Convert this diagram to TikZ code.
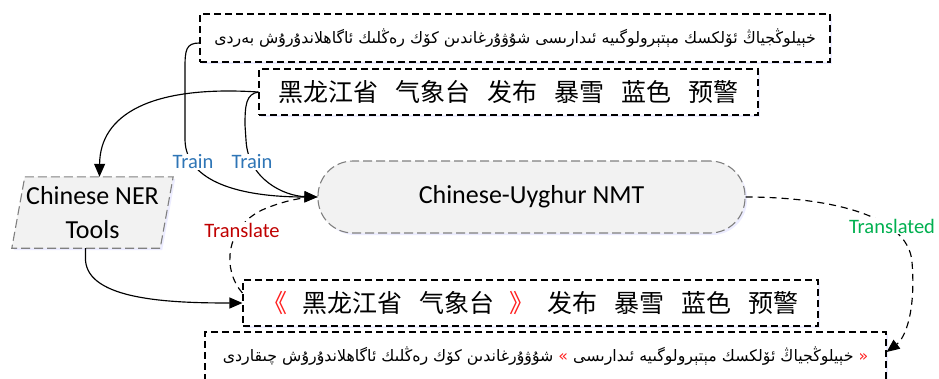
\documentclass[tikz,border=0pt]{standalone}
\usepackage{fontspec}
\setmainfont{Carlito}
\newfontfamily\cjk{Noto Sans CJK SC}
\newfontfamily\uyfont[Script=Arabic]{DejaVu Sans}
\TeXXeTstate=1
\usetikzlibrary{arrows.meta,backgrounds,shadows,calc}
\definecolor{trainblue}{HTML}{2E75B6}
\definecolor{transred}{HTML}{C00000}
\definecolor{transgreen}{HTML}{00B050}
\definecolor{boxgray}{HTML}{F2F2F2}
\definecolor{edgegray}{HTML}{808080}
\definecolor{qred}{HTML}{FF2020}
\tikzset{
  softshadow/.style={drop shadow={shadow xshift=2pt, shadow yshift=-2pt, fill=blue!25, opacity=0.3}},
  sentbox/.style={draw=black, line width=1.15pt, dash pattern=on 7pt off 4pt, fill=white, inner sep=0pt, softshadow},
  grayshape/.style={draw=edgegray, line width=1.1pt, dash pattern=on 9pt off 4pt, fill=boxgray},
  conn/.style={line width=1.15pt, -{Triangle[length=13pt,width=11pt]}},
  dashconn/.style={line width=1.15pt, dash pattern=on 7pt off 5pt},
  lab/.style={font=\fontsize{20.5}{24}\selectfont, fill=white, inner sep=1pt},
  uytext/.style={font=\uyfont\fontsize{15.8}{18}\selectfont},
  zhtext/.style={font=\cjk\fontsize{25}{28}\selectfont},
}
\begin{document}
\begin{tikzpicture}[x=1pt,y=-1pt]
\useasboundingbox (0,0) rectangle (939,378);

% sentence boxes
\node[sentbox, uytext, minimum width=630pt, minimum height=48pt] (uy1) at (515,38)
  {\beginR خېيلوڭجياڭ ئۆلكسك مېتېرولوگىيە ئىدارىسى شۇۋۇرغاندىن كۆك رەڭلىك ئاگاھلاندۇرۇش بەردى\endR};
\node[sentbox, zhtext, minimum width=499pt, minimum height=46pt] (zh1) at (508.5,92)
  {黑龙江省\hspace{17pt}气象台\hspace{17pt}发布\hspace{17pt}暴雪\hspace{17pt}蓝色\hspace{17pt}预警};
\node[sentbox, zhtext, minimum width=575pt, minimum height=46pt] (zh2) at (530.5,303)
  {{\color{qred}《}\hspace{15pt}黑龙江省\hspace{17pt}气象台\hspace{15pt}{\color{qred}》}\hspace{13pt}发布\hspace{17pt}暴雪\hspace{17pt}蓝色\hspace{17pt}预警};
\node[sentbox, uytext, minimum width=681pt, minimum height=48pt] (uy2) at (545.5,356)
  {\beginR شۇۋۇرغاندىن كۆك رەڭلىك ئاگاھلاندۇرۇش چىقاردى\endR\ {\color{qred}»}\ \beginR خېيلوڭجياڭ ئۆلكسك مېتېرولوگىيە ئىدارىسى\endR\ {\color{qred}«}};

% NER tool
\node[font=\fontsize{26}{34}\selectfont, align=center, minimum width=148pt, minimum height=71pt, inner sep=0pt] (ner) at (92.5,212.5) {Chinese NER\\Tools};
\begin{scope}[on background layer]
\draw[grayshape, softshadow] ($(ner.north west)+(6.5,0)$) -- ($(ner.north east)+(6.5,0)$) -- ($(ner.south east)+(-6.5,0)$) -- ($(ner.south west)+(-6.5,0)$) -- cycle;
\end{scope}

% NMT
\node[grayshape, softshadow, rounded corners=35pt, minimum width=427pt, minimum height=72pt, font=\fontsize{26}{30}\selectfont] (nmt) at (531.5,197) {Chinese-Uyghur NMT};

% connectors
\draw[conn] ($(uy1.west)+(0,5)$) .. controls (186,43) and (185,50) .. (185,68) -- (185,140) .. controls (186,182) and (240,197) .. (nmt.west);
\draw[conn] (zh1.west) .. controls (246,94) and (245,105) .. (245,125) -- (246,140) .. controls (248,180) and (285,196) .. (nmt.west);
\draw[conn] (zh1.west) .. controls (150,85) and (100,115) .. ($(ner.north)+(7,0)$);
\draw[conn] ($(ner.south)+(-7,0)$) -- ++(0,12) .. controls (88,300) and (170,303) .. (zh2.west);
\draw[dashconn] ($(zh2.west)+(0,-10)$) .. controls (222,270) and (225,228) .. (262,210) .. controls (285,200) and (305,197) .. (nmt.west);
\draw[dashconn, -{Triangle[length=13pt,width=11pt]}] (nmt.east) .. controls (820,197) and (908,212) .. (912,262) .. controls (916,312) and (905,338) .. ($(uy2.east)+(0,-4)$);

% labels
\node[lab, text=trainblue] (trainA) at (193,162) {Train};
\node[lab, text=trainblue] (trainB) at (252,162) {Train};
\node[lab, text=transred] (translate) at (242,230) {Translate};
\node[lab, text=transgreen] (translated) at (892,226) {Translated};
\end{tikzpicture}
\end{document}
